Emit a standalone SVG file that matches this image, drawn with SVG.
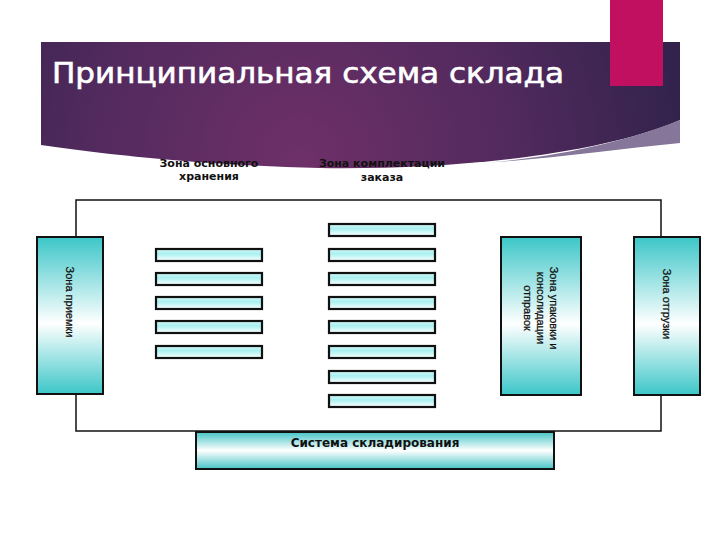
<svg xmlns="http://www.w3.org/2000/svg" width="720" height="540" viewBox="0 0 720 540">
<defs>
<radialGradient id="bannerG" cx="300" cy="160" r="380" gradientUnits="userSpaceOnUse">
<stop offset="0" stop-color="#6e3068"/>
<stop offset="0.55" stop-color="#522a5e"/>
<stop offset="1" stop-color="#33234c"/>
</radialGradient>
<linearGradient id="zoneG" x1="0" y1="0" x2="0" y2="1">
<stop offset="0" stop-color="#3cc6c8"/>
<stop offset="0.55" stop-color="#ffffff"/>
<stop offset="1" stop-color="#3cc6c8"/>
</linearGradient>
<linearGradient id="sysG" x1="0" y1="0" x2="0" y2="1">
<stop offset="0" stop-color="#45c4c6"/>
<stop offset="0.5" stop-color="#ffffff"/>
<stop offset="1" stop-color="#45c4c6"/>
</linearGradient>
<linearGradient id="rackG" x1="0" y1="0" x2="0" y2="1">
<stop offset="0" stop-color="#d8f8f8"/>
<stop offset="0.4" stop-color="#a8f0f0"/>
<stop offset="1" stop-color="#ffffff"/>
</linearGradient>
</defs>
<style>
.zone{fill:url(#zoneG);stroke:#111;stroke-width:2}
.rack{fill:url(#rackG);stroke:#111;stroke-width:2.2}
.lbl{font-family:"Liberation Sans",Arial,sans-serif;font-size:11px;fill:#111;stroke:#111;stroke-width:0.25;text-anchor:middle}
.top{font-family:"DejaVu Sans",Verdana,sans-serif;font-size:11px;font-weight:bold;fill:#111;text-anchor:middle}
.line{fill:none;stroke:#111;stroke-width:1.5}
</style>
<rect width="720" height="540" fill="#ffffff"/>
<g id="banner">
<path d="M41 42 H680 V120 C600 155 450 170 320 168 C200 165 110 155 41 145 Z" fill="url(#bannerG)"/>
<path d="M470 164 C560 158 630 140 680 120 V143 C610 150 540 160 470 164 Z" fill="#85769a"/>
<rect x="610" y="0" width="53" height="86" fill="#c0105f"/>
<text x="52" y="83" font-family="DejaVu Sans,Verdana,sans-serif" font-size="28" fill="#ffffff" stroke="#ffffff" stroke-width="0.6" textLength="512" lengthAdjust="spacingAndGlyphs">Принципиальная схема склада</text>
</g>
<g id="connectors">
<path class="line" d="M76 237 V200 H661 V237"/>
<path class="line" d="M76 394 V431 H661 V395"/>
</g>
<g id="label-storage">
<text class="top" x="209" y="167">Зона основного</text>
<text class="top" x="209" y="180">хранения</text>
</g>
<g id="label-picking">
<text class="top" x="382" y="167">Зона комплектации</text>
<text class="top" x="382" y="181">заказа</text>
</g>
<g id="zone-receiving">
<rect class="zone" x="37" y="237" width="66" height="157"/>
<text class="lbl" transform="translate(70 302) rotate(90)" y="4">Зона приемки</text>
</g>
<g id="zone-packing">
<rect class="zone" x="501" y="237" width="80" height="158"/>
<text class="lbl" transform="translate(541 308) rotate(90)"><tspan x="0" y="-9">Зона упаковки и</tspan><tspan x="0" y="4">консолидации</tspan><tspan x="0" y="17">отправок</tspan></text>
</g>
<g id="zone-shipping">
<rect class="zone" x="634" y="237" width="66" height="158"/>
<text class="lbl" transform="translate(667 304) rotate(90)" y="4">Зона отгрузки</text>
</g>
<g id="racks-storage">
<rect class="rack" x="156" y="249" width="106" height="12"/>
<rect class="rack" x="156" y="273" width="106" height="12"/>
<rect class="rack" x="156" y="297" width="106" height="12"/>
<rect class="rack" x="156" y="321" width="106" height="12"/>
<rect class="rack" x="156" y="346" width="106" height="12"/>
</g>
<g id="racks-picking">
<rect class="rack" x="329" y="224" width="106" height="12"/>
<rect class="rack" x="329" y="249" width="106" height="12"/>
<rect class="rack" x="329" y="273" width="106" height="12"/>
<rect class="rack" x="329" y="297" width="106" height="12"/>
<rect class="rack" x="329" y="321" width="106" height="12"/>
<rect class="rack" x="329" y="346" width="106" height="12"/>
<rect class="rack" x="329" y="371" width="106" height="12"/>
<rect class="rack" x="329" y="395" width="106" height="12"/>
</g>
<g id="storage-system">
<rect x="196" y="432" width="358" height="37" fill="url(#sysG)" stroke="#111" stroke-width="2"/>
<text class="top" x="375" y="447" style="font-size:12px">Система складирования</text>
</g>
</svg>
